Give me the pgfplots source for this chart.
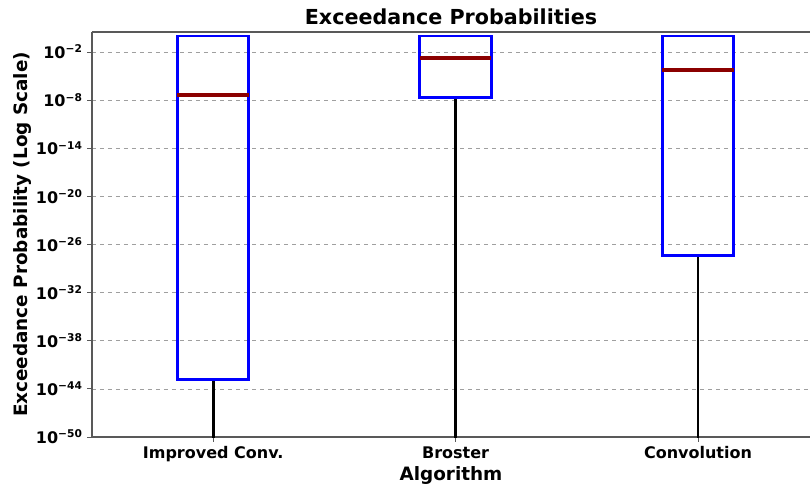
\documentclass[border=0pt]{standalone}
\usepackage{fontspec}
\setmainfont{DejaVu Sans}
\usepackage{pgfplots}
\pgfplotsset{compat=1.18}
\definecolor{mdred}{RGB}{139,0,0}
\begin{document}
\begin{tikzpicture}
\begin{axis}[
  scale only axis,
  width=538.5pt, height=303.75pt,
  ymode=log, log basis y=10,
  ymin=1e-50, ymax=3.1623,
  xmin=0.5, xmax=3.462,
  axis x line*=box, axis y line*=left,
  xtick pos=left,
  xtick={1,2,3},
  xticklabels={Improved Conv., Broster, Convolution},
  ytick={1e-50,1e-44,1e-38,1e-32,1e-26,1e-20,1e-14,1e-8,1e-2},
  yticklabels={10\textsuperscript{−50},10\textsuperscript{−44},10\textsuperscript{−38},10\textsuperscript{−32},10\textsuperscript{−26},10\textsuperscript{−20},10\textsuperscript{−14},10\textsuperscript{−8},10\textsuperscript{−2}},
  yminorticks=false,
  tick align=outside,
  major tick length=3.5pt,
  tick style={gray!70!black, line width=0.6pt},
  axis line style={gray!70!black, line width=0.8pt},
  ymajorgrids,
  grid style={gray!75, dashed, line width=0.5pt},
  tick label style={font=\bfseries\fontsize{12}{14}\selectfont},
  title={\bfseries Exceedance Probabilities},
  title style={font=\fontsize{15.5}{18}\selectfont, at={(axis description cs:0.5,1)}, anchor=base, yshift=-0.5pt},
  xlabel={\bfseries Algorithm},
  ylabel={\bfseries Exceedance Probability (Log Scale)},
  every axis x label/.style={font=\fontsize{13.8}{16}\selectfont, at={(axis description cs:0.5,0)}, anchor=center, yshift=-28.5pt},
  every axis y label/.style={font=\fontsize{13.8}{16}\selectfont, at={(axis description cs:0,0.5)}, anchor=center, xshift=-52.5pt, rotate=90},
]
% whiskers
\addplot[black, line width=2.2pt] coordinates {(1,1e-60) (1,1.4e-43)};
\addplot[black, line width=2.2pt] coordinates {(2,1e-60) (2,1.9e-8)};
\addplot[black, line width=2.2pt] coordinates {(3,1e-60) (3,4e-28)};
% boxes
\addplot[blue, line width=2.2pt] coordinates {(0.8525,1.4e-43) (1.1475,1.4e-43) (1.1475,1) (0.8525,1)} --cycle;
\addplot[blue, line width=2.2pt] coordinates {(1.8525,1.9e-8) (2.1475,1.9e-8) (2.1475,1) (1.8525,1)} --cycle;
\addplot[blue, line width=2.2pt] coordinates {(2.8525,4e-28) (3.1475,4e-28) (3.1475,1) (2.8525,1)} --cycle;
% medians
\addplot[mdred, line width=2.4pt] coordinates {(0.8525,4.5e-8) (1.1475,4.5e-8)};
\addplot[mdred, line width=2.4pt] coordinates {(1.8525,1.8e-3) (2.1475,1.8e-3)};
\addplot[mdred, line width=2.4pt] coordinates {(2.8525,5.8e-5) (3.1475,5.8e-5)};
\end{axis}
\pgfresetboundingbox
\path ([xshift=-69pt, yshift=-36pt]current axis.south west) rectangle ([yshift=24pt]current axis.north east);
\end{tikzpicture}
\end{document}
